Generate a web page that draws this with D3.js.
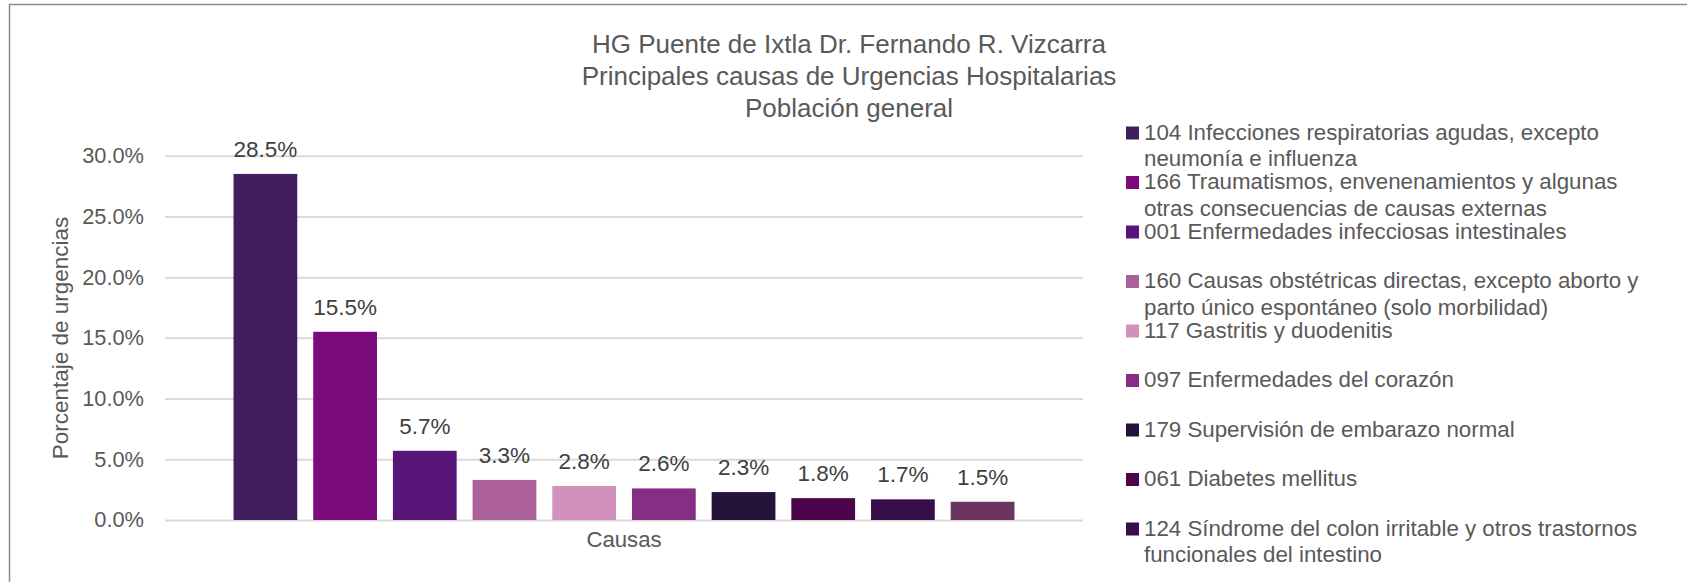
<!DOCTYPE html>
<html>
<head>
<meta charset="utf-8">
<script src="https://cdn.jsdelivr.net/npm/d3@7"></script>
<style>
  html, body { margin: 0; background: #fff; overflow: hidden; }
  svg { display: block; }
  text { font-family: "Liberation Sans", Arial, sans-serif; }
</style>
</head>
<body>
<script>
// chart data
var titleLines = ["HG Puente de Ixtla Dr. Fernando R. Vizcarra",
                  "Principales causas de Urgencias Hospitalarias",
                  "Población general"];
var causes = ["104", "166", "001", "160", "117", "097", "179", "061", "124", "other"];
var legendLines = [
    ["104 Infecciones respiratorias agudas, excepto", "neumonía e influenza"],
    ["166 Traumatismos, envenenamientos y algunas", "otras consecuencias de causas externas"],
    ["001 Enfermedades infecciosas intestinales"],
    ["160 Causas obstétricas directas, excepto aborto y", "parto único espontáneo (solo morbilidad)"],
    ["117 Gastritis y duodenitis"],
    ["097 Enfermedades del corazón"],
    ["179 Supervisión de embarazo normal"],
    ["061 Diabetes mellitus"],
    ["124 Síndrome del colon irritable y otros trastornos", "funcionales del intestino"]
];
var values = [28.5, 15.5, 5.7, 3.3, 2.8, 2.6, 2.3, 1.8, 1.7, 1.5];
var colors = ["#411E5C", "#7B0A7C", "#571479", "#AC6099", "#D291BB",
              "#852E84", "#26133B", "#4C054B", "#360F4A", "#6C3561"];
var yTicks = [0, 5, 10, 15, 20, 25, 30];

var W = 1687, H = 582;
var svg = d3.select("body").append("svg").attr("width", W).attr("height", H);

var x = d3.scaleBand().domain(causes).range([165, 1083])
    .paddingInner(0.2).paddingOuter(0.86);
var y = d3.scaleLinear().domain([0, 30]).range([520, 155.7]);

// y axis + gridlines
var yAxis = svg.append("g")
    .attr("transform", "translate(165,0)")
    .call(d3.axisLeft(y).tickValues(yTicks).tickSize(-918).tickSizeOuter(0).tickPadding(21)
        .tickFormat(function(d) { return d.toFixed(1) + "%"; }));
yAxis.select(".domain").remove();
yAxis.selectAll("line").attr("stroke", "#d9d9d9").attr("stroke-width", 2);
yAxis.selectAll("text")
    .attr("fill", "#595959")
    .style("font-size", "21.8px")
    .style("font-family", "\"Liberation Sans\", Arial, sans-serif");

// bars
svg.selectAll("rect.bar")
    .data(values)
    .enter()
    .append("rect")
    .attr("class", "bar")
    .attr("x", function(d, i) { return x(causes[i]); })
    .attr("width", x.bandwidth())
    .attr("y", function(d) { return y(d); })
    .attr("height", function(d) { return y(0) - y(d); })
    .attr("fill", function(d, i) { return colors[i]; });

// data labels
svg.selectAll("text.lbl")
    .data(values)
    .enter()
    .append("text")
    .attr("class", "lbl")
    .attr("x", function(d, i) { return x(causes[i]) + x.bandwidth() / 2; })
    .attr("y", function(d) { return y(d) - 17; })
    .attr("text-anchor", "middle")
    .attr("fill", "#404040")
    .style("font-size", "22.5px")
    .text(function(d) { return d.toFixed(1) + "%"; });

// titles
svg.selectAll("text.title")
    .data(titleLines)
    .enter()
    .append("text")
    .attr("class", "title")
    .attr("x", 849)
    .attr("y", function(d, i) { return 44 + i * 32; })
    .attr("dy", "0.35em")
    .attr("text-anchor", "middle")
    .attr("fill", "#595959")
    .style("font-size", "26px")
    .text(function(d) { return d; });

svg.append("text")
    .attr("transform", "translate(60,338) rotate(-90)")
    .attr("text-anchor", "middle")
    .attr("dy", "0.35em")
    .attr("fill", "#595959")
    .style("font-size", "22.5px")
    .text("Porcentaje de urgencias");

svg.append("text")
    .attr("x", 624).attr("y", 539)
    .attr("dy", "0.35em")
    .attr("text-anchor", "middle")
    .attr("fill", "#595959")
    .style("font-size", "22.2px")
    .text("Causas");

// legend
var leg = svg.selectAll("g.leg")
    .data(legendLines)
    .enter()
    .append("g")
    .attr("class", "leg")
    .attr("transform", function(d, i) { return "translate(1126," + (132 + i * 49.5) + ")"; });
leg.append("rect")
    .attr("x", 0).attr("y", -5.5)
    .attr("width", 13).attr("height", 13)
    .attr("fill", function(d, i) { return colors[i]; });
leg.selectAll("text")
    .data(function(d) { return d; })
    .enter()
    .append("text")
    .attr("x", 18)
    .attr("y", function(d, j) { return j * 26.5; })
    .attr("dy", "0.35em")
    .attr("fill", "#595959")
    .style("font-size", "22.3px")
    .text(function(d) { return d; });

// keep the right strip clean, then the chart frame (top and left edges only)
svg.append("rect")
    .attr("x", 1655).attr("y", 8).attr("width", 40).attr("height", H)
    .attr("fill", "#fff");
svg.append("path")
    .attr("d", "M9.5," + H + "V4.5H" + W)
    .attr("fill", "none").attr("stroke", "#8c8c8c").attr("stroke-width", 1.5);
</script>
</body>
</html>
